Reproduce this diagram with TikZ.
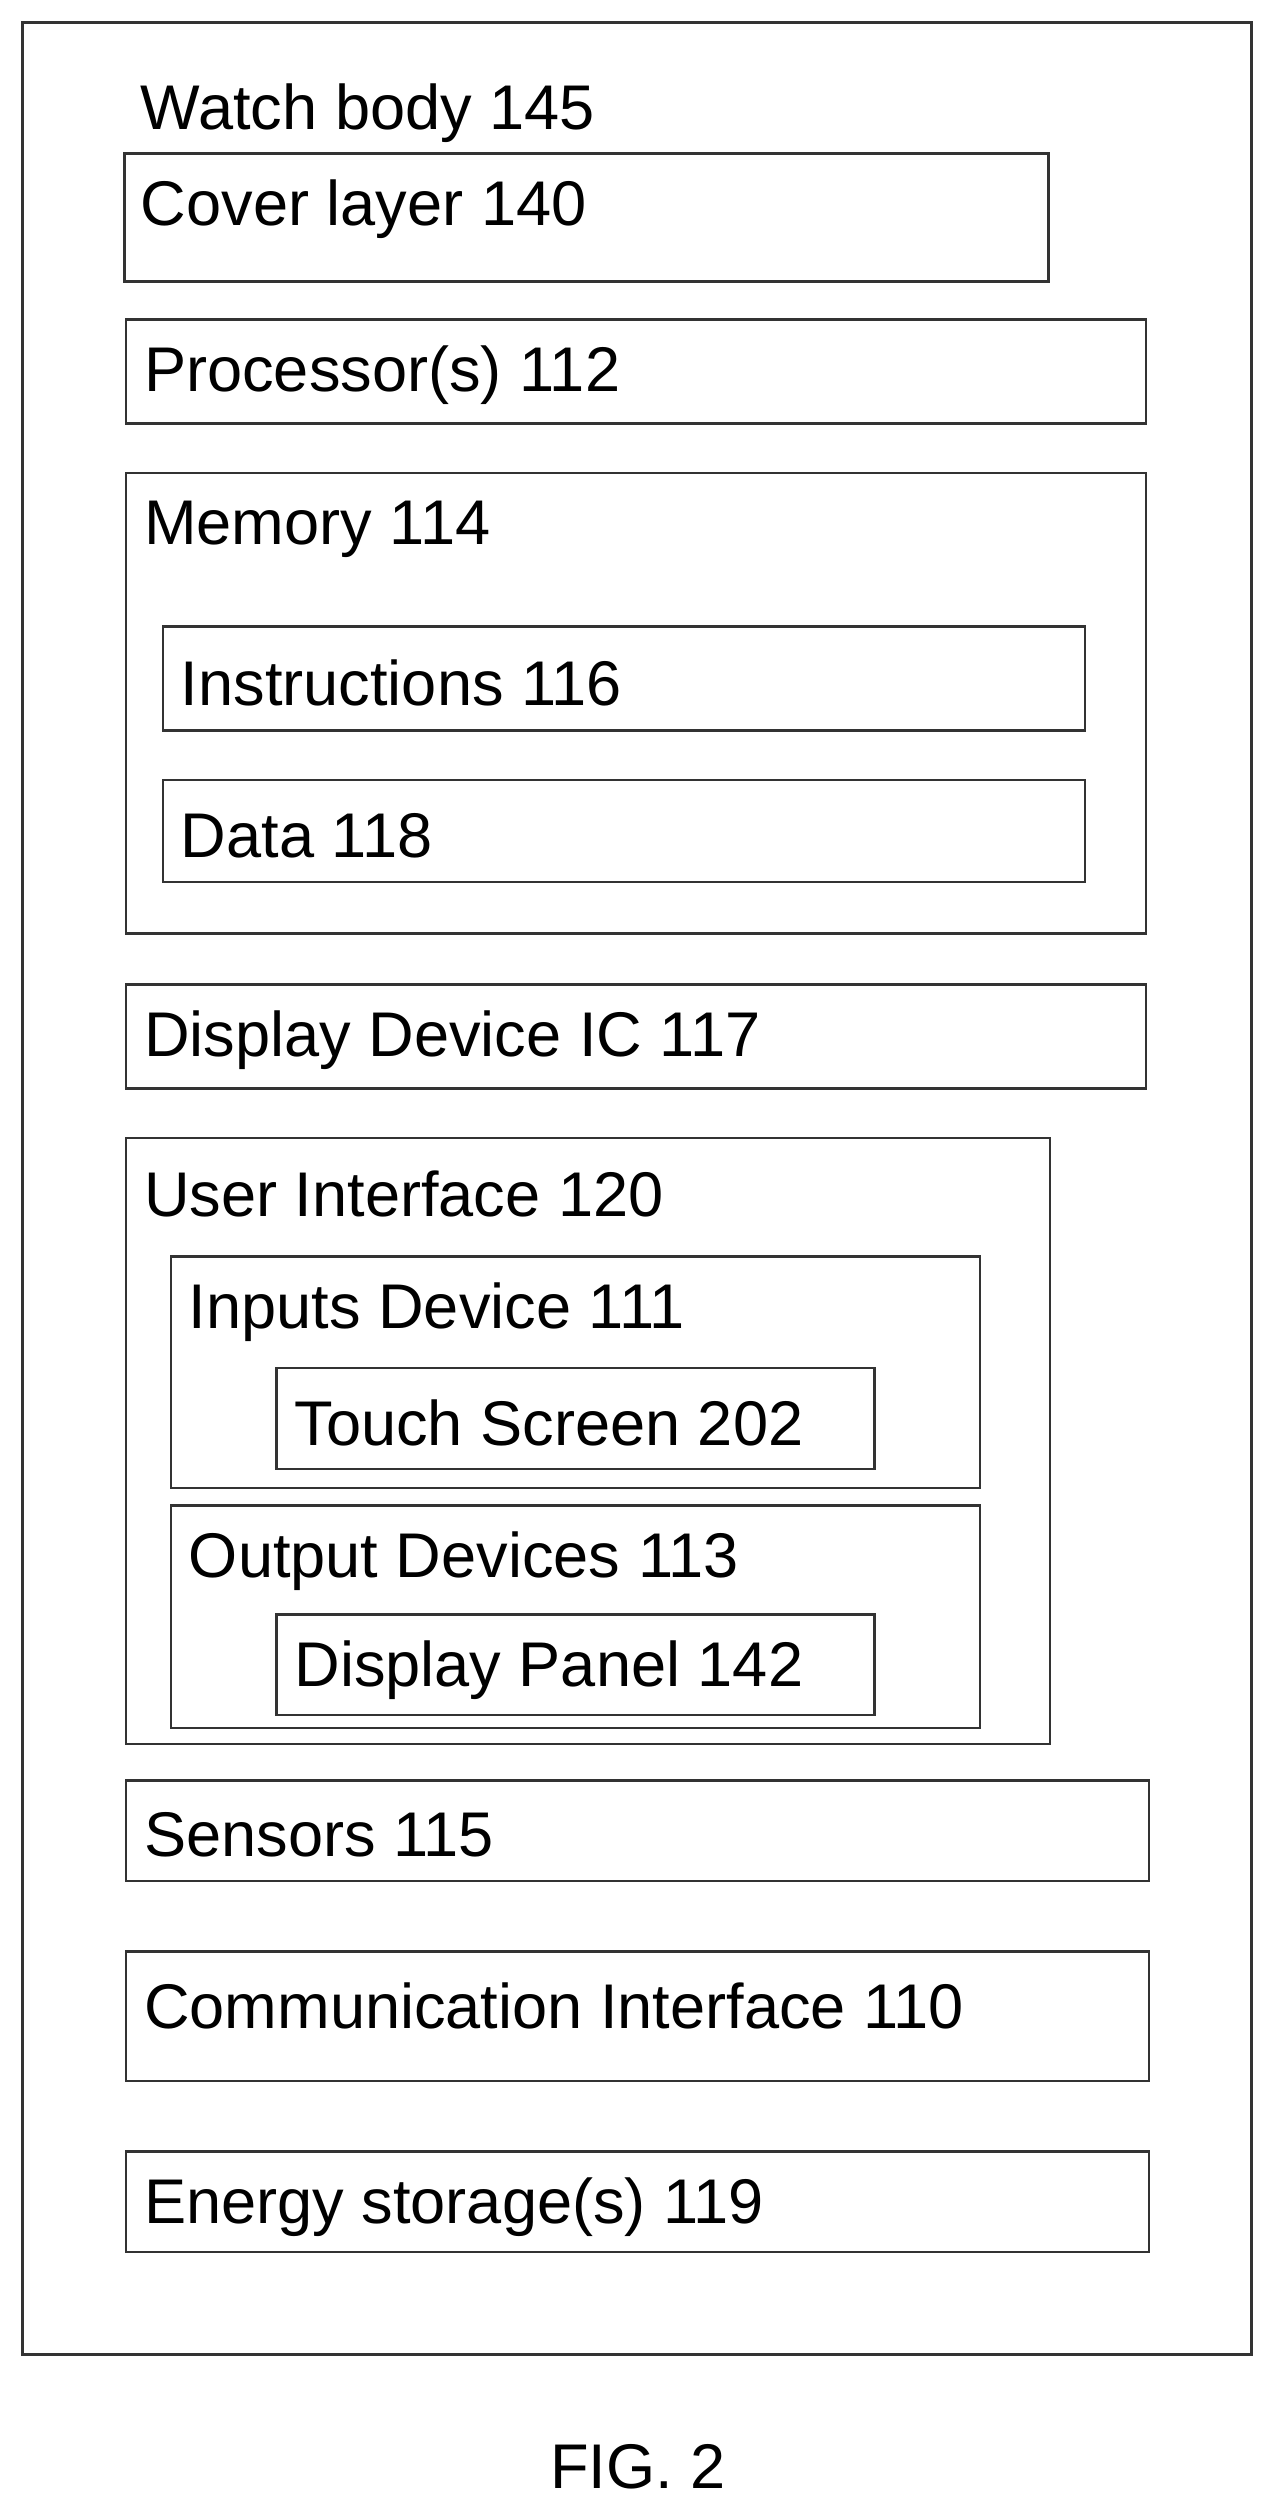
\documentclass[tikz,border=0pt]{standalone}
\usepackage{fontspec}
\setmainfont{Liberation Sans}
\begin{document}
\begin{tikzpicture}[x=1pt,y=-1pt,
  bx/.style={draw=black!80,line width=1.5pt},
  lbl/.style={anchor=west,inner sep=0pt,yshift=-3pt,font=\fontsize{39.5}{46}\selectfont}]
\useasboundingbox (0,0) rectangle (797,1571);
\draw[bx] (14,14) rectangle (783,1473);
\node[lbl] (wb) at (88,68) {Watch body 145};
\draw[bx] (78,96) rectangle (656,176);
\node[lbl] (cl) at (88,128) {Cover layer 140};
\draw[bx] (79,200) rectangle (717,265);
\node[lbl] (pr) at (90,232) {Processor(s) 112};
\draw[bx] (79,296) rectangle (717,584);
\node[lbl] (me) at (90,328) {Memory 114};
\draw[bx] (102,392) rectangle (679,457);
\node[lbl] (in) at (113,424) {Instructions 116};
\draw[bx] (102,488) rectangle (679,552);
\node[lbl] (da) at (113,520) {Data 118};
\draw[bx] (79,616) rectangle (717,681);
\node[lbl] (dd) at (90,648) {Display Device IC 117};
\draw[bx] (79,712) rectangle (657,1091);
\node[lbl] (ui) at (90,744) {User Interface 120};
\draw[bx] (107,786) rectangle (613,931);
\node[lbl] (id) at (118,818) {Inputs Device 111};
\draw[bx] (173,856) rectangle (547,919);
\node[lbl] (ts) at (184,887) {Touch Screen 202};
\draw[bx] (107,942) rectangle (613,1081);
\node[lbl] (od) at (118,974) {Output Devices 113};
\draw[bx] (173,1010) rectangle (547,1073);
\node[lbl] (dp) at (184,1042) {Display Panel 142};
\draw[bx] (79,1114) rectangle (719,1177);
\node[lbl] (se) at (90,1145) {Sensors 115};
\draw[bx] (79,1221) rectangle (719,1302);
\node[lbl] (ci) at (90,1252) {Communication Interface 110};
\draw[bx] (79,1346) rectangle (719,1409);
\node[lbl] (es) at (90,1378) {Energy storage(s) 119};
\node[inner sep=0pt,font=\fontsize{39.5}{46}\selectfont] (fig) at (399,1543) {FIG. 2};
\end{tikzpicture}
\end{document}
